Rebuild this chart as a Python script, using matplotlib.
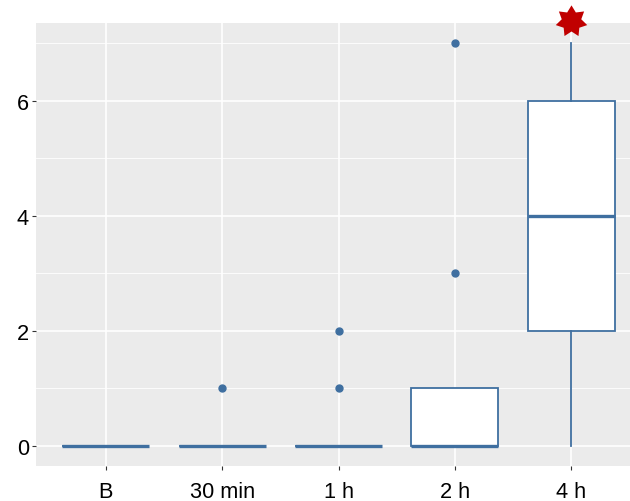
import matplotlib.pyplot as plt
from matplotlib.path import Path
import numpy as np

# box statistics per time point
groups = ["B", "30 min", "1 h", "2 h", "4 h"]
q1 = [0, 0, 0, 0, 2]
med = [0, 0, 0, 0, 4]
q3 = [0, 0, 0, 1, 6]
whislo = [0, 0, 0, 0, 0]
whishi = [0, 0, 0, 1, 7]
fliers = [[], [1], [1, 2], [3, 7], []]
star_group = "4 h"
star_y = 7.38

col = "#3F6FA0"


# fat 7-pointed star marker
def star_path(n=7, inner=0.62):
    ang = np.pi / 2 + np.arange(2 * n) * np.pi / n
    r = np.where(np.arange(2 * n) % 2 == 0, 1.0, inner)
    verts = np.column_stack([r * np.cos(ang), r * np.sin(ang)])
    verts = np.vstack([verts, verts[:1]])
    return Path(verts, closed=True)


plt.rcParams['font.family'] = ['Liberation Sans', 'DejaVu Sans']
fig = plt.figure(figsize=(6.3, 5.02), dpi=100)
ax = fig.add_axes([36/630, 35/502, 605/630, 443/502])
ax.set_facecolor("#EBEBEB")

stats = []
for i, g in enumerate(groups):
    stats.append(dict(label=g, q1=q1[i], med=med[i], q3=q3[i],
                      whislo=whislo[i], whishi=whishi[i], fliers=fliers[i]))

pos = np.arange(1, len(groups) + 1)
ax.bxp(stats, positions=pos, widths=0.75, patch_artist=True, showcaps=False,
       boxprops=dict(facecolor="white", edgecolor=col, linewidth=1.3),
       medianprops=dict(color=col, linewidth=2.4, solid_capstyle="butt"),
       whiskerprops=dict(color=col, linewidth=1.3),
       flierprops=dict(marker="o", markerfacecolor=col, markeredgecolor=col,
                       markersize=5))

# star annotation
sx = groups.index(star_group) + 1
ax.scatter([sx], [star_y], marker=star_path(), s=540, color="#C00000",
           linewidths=0, clip_on=False, zorder=5)

ax.set_xlim(0.4, 5.6)
ax.set_ylim(-0.35, 7.35)
ax.set_yticks([0, 2, 4, 6])
ax.set_yticks([1, 3, 5, 7], minor=True)
ax.set_xticks(pos)
ax.set_xticklabels(groups)
ax.grid(True, which="major", color="white", linewidth=1.2)
ax.grid(True, which="minor", axis="y", color="white", linewidth=0.6)
ax.set_axisbelow(True)
for s in ax.spines.values():
    s.set_visible(False)
ax.tick_params(which="major", length=3, color="#333333", labelsize=15.7,
               labelcolor="black", pad=2)
ax.tick_params(axis="x", pad=8)
ax.tick_params(which="minor", length=0)

fig.savefig("out.png")
